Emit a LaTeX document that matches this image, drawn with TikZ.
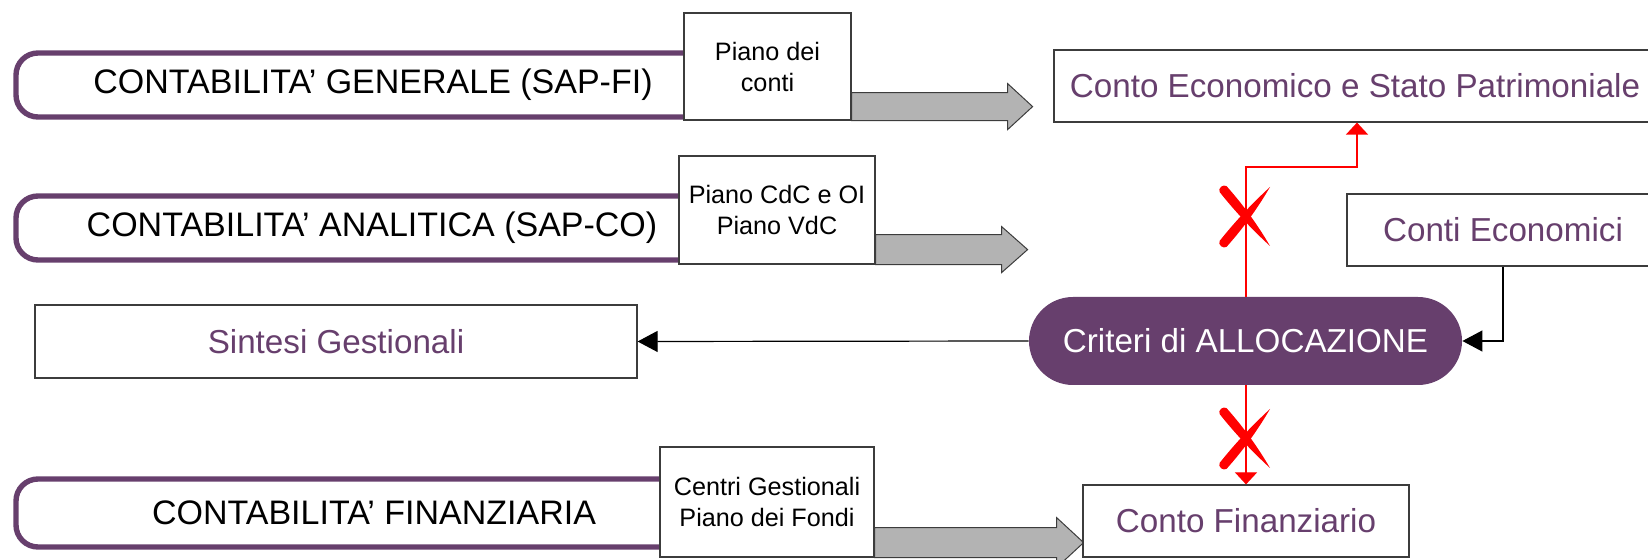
\documentclass[tikz,border=0pt]{standalone}
\usepackage{fontspec}
\setmainfont{Liberation Sans}
\usetikzlibrary{arrows.meta,calc}
\definecolor{plum}{HTML}{673F6D}
\definecolor{arrowgray}{HTML}{B3B3B3}
\definecolor{edgegray}{HTML}{3C3C3C}

\tikzset{
  crossmark/.pic={
    % brush stroke from top left, heavy end up
    \fill[red] (-26.5,-23.1) .. controls (-11.2,-3.8) and (5.7,14.2) .. (24,31)
               .. controls (11.4,9.4) and (-3.1,-10.5) .. (-19.5,-28.9)
               .. controls (-23,-31) and (-28,-27) .. cycle;
    % brush stroke from top right, heavy end down
    \fill[red] (24,-28) .. controls (11.4,-6.4) and (-3.1,13.6) .. (-19.5,31.9)
               .. controls (-23,34) and (-28,30) .. (-26.5,26.1)
               .. controls (-11.2,6.8) and (5.7,-11.2) .. cycle;
  }
}

\begin{document}
\begin{tikzpicture}[x=0.5pt,y=-0.5pt,
  bigtext/.style={font=\fontsize{16.6}{20}\selectfont},
  rowtext/.style={font=\fontsize{17}{20}\selectfont},
  smalltext/.style={font=\fontsize{12.6}{15.5}\selectfont, align=center},
  pill/.style={draw=plum, line width=2.7pt, rounded corners=11pt},
  boxnode/.style={draw=edgegray, fill=white, line width=0.6pt, inner sep=0pt, anchor=center},
  resultbox/.style={boxnode, text=plum, bigtext},
  codebox/.style={boxnode, smalltext},
  blockarrow/.style={fill=arrowgray, draw=edgegray, line width=0.5pt},
  blk/.style={draw=black, line width=0.6pt, -{Triangle[length=10pt,width=10.5pt]}},
  redline/.style={draw=red, line width=0.6pt, -{Triangle[length=6pt,width=11pt]}},
]
\useasboundingbox (0,0) rectangle (1648,560);

% accounting systems (open pills on the left)
\draw[pill] (700,53) -- (16,53) -- (16,117) -- (700,117);
\draw[pill] (700,196) -- (16,196) -- (16,260) -- (700,260);
\draw[pill] (700,479) -- (16,479) -- (16,547) -- (700,547);
\node[rowtext] (genLbl) at (373,85) {CONTABILITA’ GENERALE (SAP-FI)};
\node[rowtext] (anaLbl) at (372,228) {CONTABILITA’ ANALITICA (SAP-CO)};
\node[rowtext] (finLbl) at (374,513) {CONTABILITA’ FINANZIARIA};

% master data boxes
\node[codebox, minimum width=83.5pt, minimum height=53.5pt] (pianoConti) at (767.5,66.5) {Piano dei\\conti};
\node[codebox, minimum width=98pt, minimum height=54pt] (pianoCdC) at (777,210) {Piano CdC e OI\\Piano VdC};
\node[codebox, minimum width=107pt, minimum height=55pt] (centri) at (767,502) {Centri Gestionali\\Piano dei Fondi};

% block arrows
\draw[blockarrow] (pianoConti.south east) -- ++(0,-28) -- ++(156,0) -- ++(0,-9)
  -- ++(25,23) -- ++(-25,23) -- ++(0,-9) -- cycle;
\draw[blockarrow] (pianoCdC.south east) -- ++(0,-30) -- ++(126,0) -- ++(0,-8)
  -- ++(26,23) -- ++(-26,23) -- ++(0,-8) -- cycle;
\draw[blockarrow] (centri.south east) -- ++(0,-30) -- ++(182,0) -- ++(0,-10)
  -- ++(27,25) -- ++(-27,25) -- ++(0,-10) -- cycle;

% reports
\node[resultbox, minimum width=301pt, minimum height=36pt] (cesp) at (1355,86) {Conto Economico e Stato Patrimoniale};
\node[resultbox, minimum width=156pt, minimum height=36pt] (contiEco) at (1503,230) {Conti Economici};
\node[resultbox, minimum width=301pt, minimum height=36.5pt] (sintesi) at (336,341.5) {Sintesi Gestionali};
\node[resultbox, minimum width=163pt, minimum height=36pt] (finanz) at (1246,521) {Conto Finanziario};

% allocation rules
\node[fill=plum, rounded corners=22pt, minimum width=216.5pt, minimum height=44pt,
      inner sep=0pt, text=white, bigtext] (crit) at (1245.5,341) {Criteri di ALLOCAZIONE};

% connectors
\draw[blk] (contiEco.south) |- (crit.east);
\draw[blk] (crit.west) -- (sintesi.east);

\coordinate (bendA) at (1246,167);
\coordinate (bendB) at (1357,167);
\draw[redline] (crit.north -| bendA) -- (bendA) -- (bendB) -- (cesp.south -| bendB);
\draw[redline] (crit.south -| finanz.north) -- (finanz.north);

% blocked flows
\pic (blockUp) at (1246,215) {crossmark};
\pic (blockDown) at (1246,437) {crossmark};
\end{tikzpicture}
\end{document}
